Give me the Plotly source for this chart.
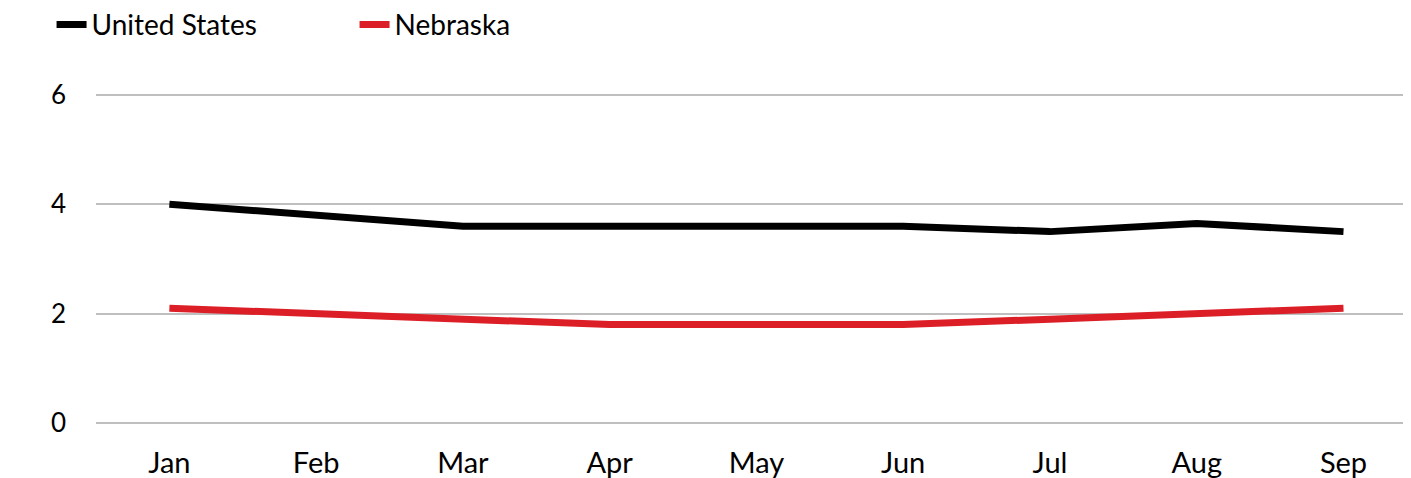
import plotly.graph_objects as go

months = ["Jan", "Feb", "Mar", "Apr", "May", "Jun", "Jul", "Aug", "Sep"]
us_values = [4.0, 3.8, 3.6, 3.6, 3.6, 3.6, 3.5, 3.65, 3.5]
ne_values = [2.1, 2.0, 1.9, 1.8, 1.8, 1.8, 1.9, 2.0, 2.1]
y_ticks = [0, 2, 4, 6]

FONT = "Lato, Noto Sans, sans-serif"

fig = go.Figure()
fig.add_trace(go.Scatter(x=months, y=us_values, mode="lines", name="United States",
                         line=dict(color="#000000", width=7)))
fig.add_trace(go.Scatter(x=months, y=ne_values, mode="lines", name="Nebraska",
                         line=dict(color="#DC1E27", width=7)))

# page body has an 8px default margin, so the figure is sized/offset to compensate
fig.update_layout(
    width=1403, height=470,
    margin=dict(l=88, r=0, t=65, b=44, autoexpand=False),
    paper_bgcolor="white", plot_bgcolor="white",
    font=dict(family=FONT, size=26, color="#000000"),
    showlegend=True,
    legend=dict(orientation="h", x=-0.0338, y=1.203, xanchor="left", yanchor="top",
                font=dict(size=28), entrywidth=258, entrywidthmode="pixels",
                tracegroupgap=0, bgcolor="rgba(0,0,0,0)"),
    xaxis=dict(type="category", range=[-0.5, 8.46], showgrid=False, zeroline=False,
               showline=False, ticks="", ticklabelstandoff=9,
               tickfont=dict(size=29)),
    yaxis=dict(range=[-0.2, 6.4], tickvals=y_ticks, showgrid=True, gridcolor="#BFBFBF",
               gridwidth=2, zeroline=False, showline=False, ticks="",
               ticklabelstandoff=29, tickfont=dict(size=26)),
)

fig.write_html("out.html")
